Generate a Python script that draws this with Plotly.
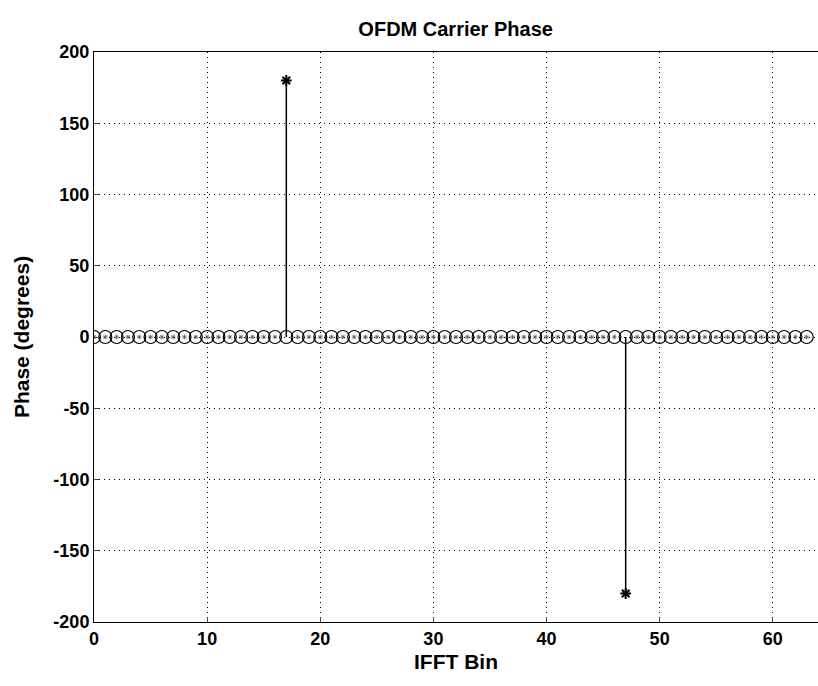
import plotly.graph_objects as go

bins = list(range(64))
ref_phase = [0] * 64                      # circle markers (all at 0)
phase = [0] * 64                          # carrier phase in degrees
phase[17] = 180
phase[47] = -180
x_ticks = [0, 10, 20, 30, 40, 50, 60]
y_ticks = [-200, -150, -100, -50, 0, 50, 100, 150, 200]
y_ticktext = [str(v) for v in y_ticks]

# stems for the phase series
sx, sy = [], []
for b, p in zip(bins, phase):
    if p != 0:
        sx += [b, b, None]
        sy += [0, p, None]

fig = go.Figure()
fig.add_trace(go.Scatter(x=sx, y=sy, mode="lines",
                         line=dict(color="black", width=1.5),
                         hoverinfo="skip", showlegend=False))
fig.add_trace(go.Scatter(x=bins, y=ref_phase, mode="markers",
                         marker=dict(symbol="circle-open", size=13,
                                     color="black", line=dict(width=1.2)),
                         showlegend=False))
fig.add_trace(go.Scatter(x=bins, y=phase, mode="markers",
                         marker=dict(symbol="asterisk-open", size=4,
                                     color="#555555", line=dict(width=0.8)),
                         showlegend=False))
nz = [b for b, p in zip(bins, phase) if p != 0]
fig.add_trace(go.Scatter(x=nz, y=[phase[b] for b in nz], mode="markers",
                         marker=dict(symbol="asterisk-open", size=9,
                                     color="black", line=dict(width=2)),
                         showlegend=False))

fam = "Liberation Sans, Arial, sans-serif"
tfont = dict(family=fam, size=18, color="black", weight="bold")
lfont = dict(family=fam, size=21, color="black", weight="bold")
grid = dict(showgrid=True, gridcolor="black", griddash="1px,4px", gridwidth=1)
fig.update_layout(
    width=818, height=686,
    margin=dict(l=94, r=0, t=52, b=64),
    paper_bgcolor="white", plot_bgcolor="white",
    font=tfont,
    title=dict(text="OFDM Carrier Phase", x=0.557, xanchor="center",
               y=0.958, yanchor="middle",
               font=dict(family=fam, size=20, color="black", weight="bold")),
    xaxis=dict(range=[0, 64], tickvals=x_ticks, ticks="inside", ticklen=5,
               showline=True, linecolor="black", linewidth=1, mirror=True,
               zeroline=False, title=dict(text="IFFT Bin", standoff=6, font=lfont),
               tickfont=tfont, **grid),
    yaxis=dict(range=[-200, 200], tickvals=y_ticks, ticktext=y_ticktext,
               ticks="inside", ticklen=5,
               showline=True, linecolor="black", linewidth=1, mirror=True,
               zeroline=False, title=dict(text="Phase (degrees)", standoff=18, font=lfont),
               tickfont=tfont, **grid),
)
fig.write_html("out.html")
